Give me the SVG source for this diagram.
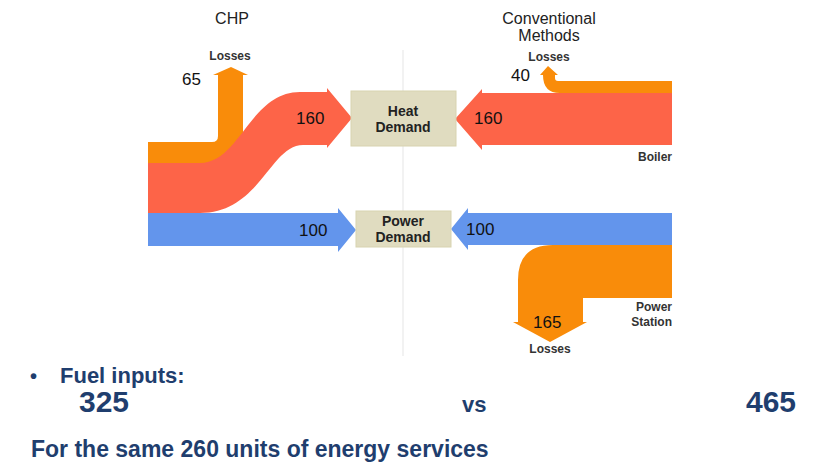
<svg xmlns="http://www.w3.org/2000/svg" width="826" height="466" viewBox="0 0 826 466">
<style>
text{font-family:"Liberation Sans",Arial,sans-serif}
.h{font-size:16px;fill:#222;text-anchor:middle}
.s{font-size:12px;font-weight:bold;fill:#333;text-anchor:middle}
.e{text-anchor:end}
.bx{font-size:14px;fill:#222}
.n{font-size:17px;fill:#111}
.box{fill:#e0dcc0;stroke:#d8d3b0}
.or{fill:#f98c0a}.rd{fill:#fd6448}.bl{fill:#6395ec}
.b{font-weight:bold;fill:#1f3e6e}
</style>
<rect width="826" height="466" fill="#fff"/>
<line x1="403" y1="50" x2="403" y2="356" stroke="#eee" stroke-width="1.5"/>
<g id="connectors">
<path class="or" d="M148 142 H212 Q218 142 218 136 V75 H213 L231 67 L248 75 H243 V142 Q243 163 225 163 H148 Z"/>
<path class="rd" d="M148 163 H200 C240 163 250 92 300 92 H327 V88 L352 118 L327 148 V145 H303 C270 145 260 213 200 213 H148 Z"/>
<path class="bl" d="M148 213 H338 V208 L356 230 L338 252 V246 H148 Z"/>
<path class="or" d="M672 81 H558 Q555 81 555 78 V75 H558 L548 66 L540 75 H543 Q543 93 560 93 H672 Z"/>
<path class="rd" d="M672 93 V145 H482 V150 L455 119 L482 89 V93 Z"/>
<path class="bl" d="M672 213 V245 H468 V250 L451 229 L468 208 V213 Z"/>
<path class="or" d="M672 245 V298 H583 V322 H587 L550 342 L513 322 H518 V280 Q518 245 553 245 Z"/>
</g>
<g id="heat"><rect class="box" x="351" y="91" width="105" height="55"/>
<text class="s bx" x="403" y="116">Heat</text><text class="s bx" x="403" y="132">Demand</text></g>
<g id="power"><rect class="box" x="356" y="211" width="95" height="36"/>
<text class="s bx" x="403" y="226">Power</text><text class="s bx" x="403" y="242">Demand</text></g>
<g id="labels">
<text class="h" x="232" y="24">CHP</text>
<text class="h" x="549" y="24">Conventional</text>
<text class="h" x="549" y="41">Methods</text>
<text class="s" x="230" y="60">Losses</text>
<text class="n" x="182" y="85">65</text>
<text class="n" x="296" y="124">160</text>
<text class="n" x="299" y="236">100</text>
<text class="s" x="549" y="61">Losses</text>
<text class="n" x="511" y="81">40</text>
<text class="n" x="474" y="124">160</text>
<text class="s e" x="672" y="161">Boiler</text>
<text class="n" x="466" y="235">100</text>
<text class="s e" x="672" y="311">Power</text>
<text class="s e" x="672" y="326">Station</text>
<text class="n" x="533" y="328">165</text>
<text class="s" x="550" y="353">Losses</text>
</g>
<g id="footer">
<text class="b" x="30" y="383" font-size="20">•</text>
<text class="b" x="60" y="383" font-size="22">Fuel inputs:</text>
<text class="b" x="79" y="412" font-size="30">325</text>
<text class="b" x="462" y="412" font-size="22">vs</text>
<text class="b" x="746" y="412" font-size="30">465</text>
<text class="b" x="31" y="457" font-size="23">For the same 260 units of energy services</text>
</g>
</svg>
